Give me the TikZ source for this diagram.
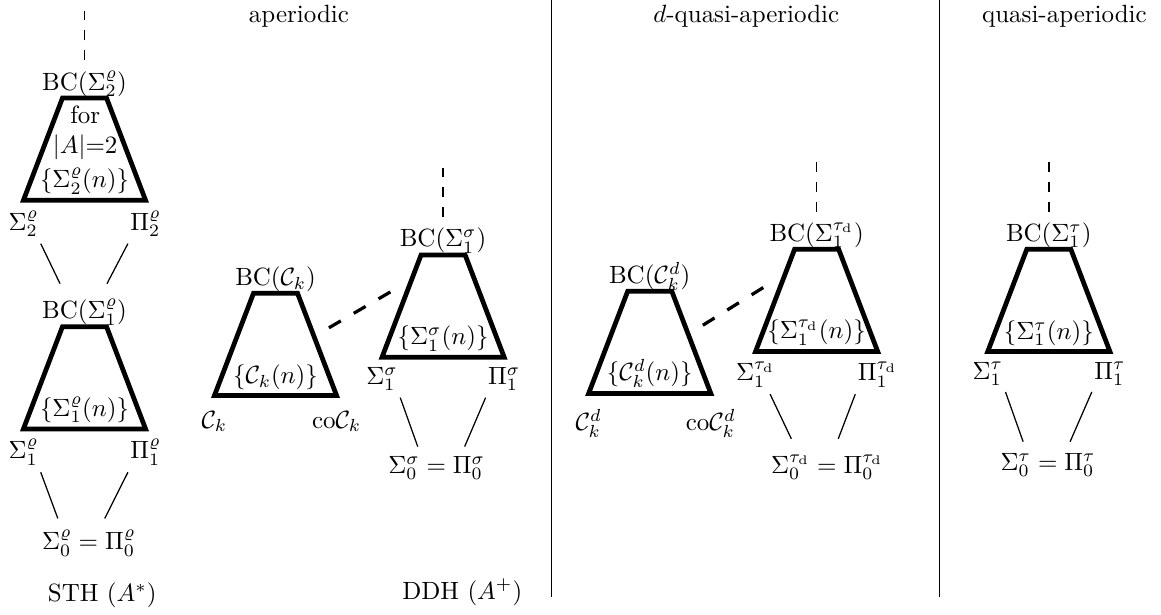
\documentclass[tikz,border=0pt]{standalone}
\usepackage{amsmath,amssymb}
\usetikzlibrary{calc}

\begin{document}
\begin{tikzpicture}[
  trapz/.pic={
    \draw[line width=1.9pt] (-0.86,-0.72) coordinate (-bl) -- (0.86,-0.72) coordinate (-br)
      -- (0.31,0.72) coordinate (-tr) -- (-0.31,0.72) coordinate (-tl) -- cycle;
    \coordinate (-top) at (0,0.72);
    \coordinate (-bot) at (0,-0.72);
    \coordinate (-out) at (0.54,0.11);
    \coordinate (-in) at (-0.44,0.375);
  },
  bclab/.style={anchor=base, inner sep=0pt, yshift=3.2pt},
  inlab/.style={above, inner sep=2.2pt},
  lab/.style={inner xsep=0.8pt, inner ysep=2.5pt},
  corner/.style={below, lab, yshift=-1.5pt},
  conn/.style={line width=0.5pt},
  vdash/.style={line width=0.6pt, dash pattern=on 4pt off 4pt},
  ddash/.style={line width=1.3pt, dash pattern=on 5.5pt off 6pt,
    shorten <=7pt, shorten >=7pt}
]
  \useasboundingbox (0,0) rectangle (16.35,8.65);

  % Column headers and separators
  \node[anchor=base] (aper) at (4.21,8.34) {aperiodic};
  \node[anchor=base] (dquasi) at (10.51,8.34) {$d$-quasi-aperiodic};
  \node[anchor=base] (quasi) at (14.99,8.34) {quasi-aperiodic};
  \draw (7.77,8.65) -- (7.77,0.24);
  \draw (13.23,8.65) -- (13.23,0.24);

  % STH: level 2
  \pic (t2rho) at (1.19,6.55) {trapz};
  \node[bclab] (bc2rho) at (t2rho-top) {BC$(\Sigma_2^\varrho)$};
  \node[inlab] (in2rho) at (t2rho-bot) {$\{\Sigma_2^\varrho(n)\}$};
  \node[align=center, inner sep=0pt] (for2rho) at (1.20,6.78) {for\\$|A|{=}2$};
  \node[corner] (s2rho) at (t2rho-bl) {$\Sigma_2^\varrho$};
  \node[corner] (p2rho) at (t2rho-br) {$\Pi_2^\varrho$};

  % STH: level 1
  \pic (t1rho) at (1.19,3.33) {trapz};
  \node[bclab] (bc1rho) at (t1rho-top) {BC$(\Sigma_1^\varrho)$};
  \node[inlab] (in1rho) at (t1rho-bot) {$\{\Sigma_1^\varrho(n)\}$};
  \node[corner] (s1rho) at (t1rho-bl) {$\Sigma_1^\varrho$};
  \node[corner] (p1rho) at (t1rho-br) {$\Pi_1^\varrho$};
  \node[lab] (b0rho) at (1.25,1.00) {$\Sigma_0^\varrho=\Pi_0^\varrho$};
  \node (sth) at (1.44,0.27) {STH $(A^*)$};

  % DDH: C_k and Sigma_1^sigma
  \pic (tck) at (3.88,3.80) {trapz};
  \node[bclab] (bcck) at (tck-top) {BC$(\mathcal{C}_k)$};
  \node[inlab] (inck) at (tck-bot) {$\{\mathcal{C}_k(n)\}$};
  \node[corner, yshift=-2pt] (ck) at (tck-bl) {$\mathcal{C}_k$};
  \node[corner, yshift=-2pt] (cock) at (tck-br) {$\mathrm{co}\mathcal{C}_k$};

  \pic (tsigma) at (6.24,4.34) {trapz};
  \node[bclab] (bcsigma) at (tsigma-top) {BC$(\Sigma_1^\sigma)$};
  \node[inlab] (insigma) at (tsigma-bot) {$\{\Sigma_1^\sigma(n)\}$};
  \node[corner] (s1sigma) at (tsigma-bl) {$\Sigma_1^\sigma$};
  \node[corner] (p1sigma) at (tsigma-br) {$\Pi_1^\sigma$};
  \node[lab] (b0sigma) at (6.15,2.06) {$\Sigma_0^\sigma=\Pi_0^\sigma$};
  \node (ddh) at (6.51,0.31) {DDH $(A^+)$};

  % d-quasi-aperiodic
  \pic (tckd) at (9.15,3.83) {trapz};
  \node[bclab] (bcckd) at (tckd-top) {BC$(\mathcal{C}_k^d)$};
  \node[inlab] (inckd) at (tckd-bot) {$\{\mathcal{C}_k^d(n)\}$};
  \node[corner, yshift=-2pt] (ckd) at (tckd-bl) {$\mathcal{C}_k^d$};
  \node[corner, yshift=-2pt] (cockd) at (tckd-br) {$\mathrm{co}\mathcal{C}_k^d$};

  \pic (ttaud) at (11.50,4.42) {trapz};
  \node[bclab] (bctaud) at (ttaud-top) {BC$(\Sigma_1^{\tau_{\mathrm{d}}})$};
  \node[inlab] (intaud) at (ttaud-bot) {$\{\Sigma_1^{\tau_{\mathrm{d}}}(n)\}$};
  \node[corner] (s1taud) at (ttaud-bl) {$\Sigma_1^{\tau_{\mathrm{d}}}$};
  \node[corner] (p1taud) at (ttaud-br) {$\Pi_1^{\tau_{\mathrm{d}}}$};
  \node[lab] (b0taud) at (11.65,2.07) {$\Sigma_0^{\tau_{\mathrm{d}}}=\Pi_0^{\tau_{\mathrm{d}}}$};

  % quasi-aperiodic
  \pic (ttau) at (14.77,4.42) {trapz};
  \node[bclab] (bctau) at (ttau-top) {BC$(\Sigma_1^\tau)$};
  \node[inlab] (intau) at (ttau-bot) {$\{\Sigma_1^\tau(n)\}$};
  \node[corner] (s1tau) at (ttau-bl) {$\Sigma_1^\tau$};
  \node[corner] (p1tau) at (ttau-br) {$\Pi_1^\tau$};
  \node[lab] (b0tau) at (14.76,2.10) {$\Sigma_0^\tau=\Pi_0^\tau$};

  % Hierarchy lines
  \draw[conn] (s2rho.south east) -- ([xshift=-9.8pt,yshift=6pt]bc1rho.north);
  \draw[conn] (p2rho.south west) -- ([xshift=9pt,yshift=6pt]bc1rho.north);
  \draw[conn] (s1rho.south east) -- ([xshift=-12.4pt,yshift=2pt]b0rho.north);
  \draw[conn] (p1rho.south west) -- ([xshift=6.4pt,yshift=2pt]b0rho.north);
  \draw[conn] (s1sigma.south east) -- ([xshift=-7.6pt,yshift=1.2pt]b0sigma.north);
  \draw[conn] (p1sigma.south west) -- ([xshift=11.2pt,yshift=1.2pt]b0sigma.north);
  \draw[conn] ([xshift=-3pt]s1taud.south east) -- ([xshift=-14.4pt,yshift=3.6pt]b0taud.north);
  \draw[conn] (p1taud.south west) -- ([xshift=4.4pt,yshift=3.6pt]b0taud.north);
  \draw[conn] (s1tau.south east) -- ([xshift=-10pt,yshift=2pt]b0tau.north);
  \draw[conn] (p1tau.south west) -- ([xshift=8.8pt,yshift=2pt]b0tau.north);

  % Continuation upwards
  \draw[vdash] ([yshift=0.53cm]t2rho-top) -- ++(0,0.7);
  \draw[vdash] ([yshift=0.53cm]tsigma-top) -- ++(0,0.7);
  \draw[vdash] ([yshift=0.53cm]ttaud-top) -- ++(0,0.7);
  \draw[vdash] ([yshift=0.53cm]ttau-top) -- ++(0,0.7);

  % Inclusions between classes
  \draw[ddash] (tck-out) -- (tsigma-in);
  \draw[ddash] (tckd-out) -- (ttaud-in);
\end{tikzpicture}
\end{document}
